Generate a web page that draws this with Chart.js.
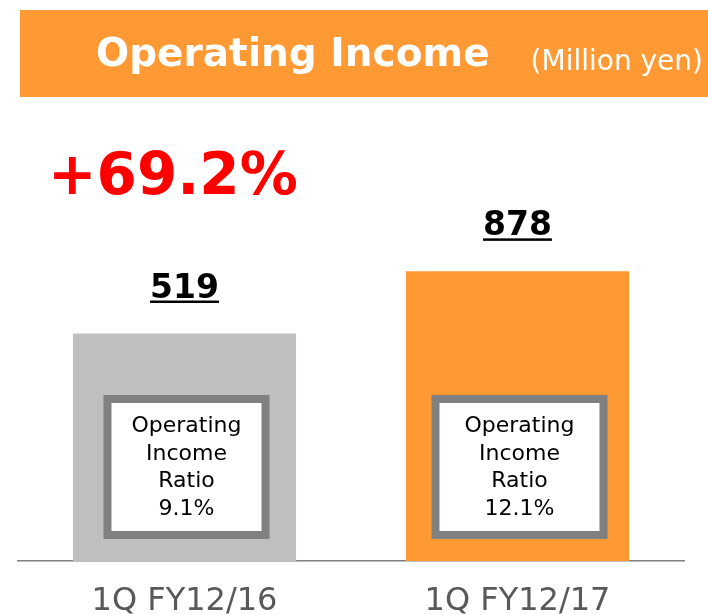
<!DOCTYPE html>
<html>
<head>
<meta charset="utf-8">
<script src="https://cdn.jsdelivr.net/npm/chart.js@4"></script>
<style>
  html, body { margin: 0; padding: 0; background: #fff; }
  #wrap { width: 708px; height: 615px; position: relative; }
</style>
</head>
<body>
<div id="wrap"><canvas id="incomeChart"></canvas></div>
<script>
// chart data
const categories = ['1Q FY12/16', '1Q FY12/17'];
const operatingIncome = [519, 878];
const incomeRatio = ['9.1%', '12.1%'];
const growthText = '+69.2%';
const titleText = 'Operating Income';
const unitText = '(Million yen)';

const FONT = '"DejaVu Sans", Verdana, sans-serif';
const ORANGE = '#FF9933';

// draws the header, growth figure, value labels and ratio boxes
const decorations = {
    id: 'decorations',
    afterDatasetsDraw(chart) {
        const ctx = chart.ctx;
        ctx.save();

        // header band
        ctx.fillStyle = ORANGE;
        ctx.fillRect(20, 10, 688, 87);
        ctx.fillStyle = '#fff';
        ctx.textBaseline = 'alphabetic';
        ctx.textAlign = 'left';
        ctx.font = 'bold 39px ' + FONT;
        ctx.fillText(titleText, 96, 66);
        ctx.font = '28px ' + FONT;
        ctx.textAlign = 'right';
        ctx.fillText(unitText, 703, 70);

        // growth rate
        ctx.fillStyle = '#FF0000';
        ctx.textAlign = 'left';
        ctx.font = 'bold 58px ' + FONT;
        ctx.fillText(growthText, 48, 194);

        const meta = chart.getDatasetMeta(0);
        meta.data.forEach((bar, i) => {
            // value label with underline
            ctx.fillStyle = '#000';
            ctx.textAlign = 'center';
            ctx.font = 'bold 33px ' + FONT;
            const label = String(operatingIncome[i]);
            const ty = bar.y - 36;
            ctx.fillText(label, bar.x, ty);
            const w = ctx.measureText(label).width;
            ctx.fillRect(bar.x - w / 2, ty + 3, w, 2.5);

            // ratio box
            const boxW = i === 0 ? 166 : 176;
            const boxTop = bar.base - 166;
            const boxH = 144;
            const left = bar.x - boxW / 2 + 2;
            ctx.fillStyle = '#808080';
            ctx.fillRect(left, boxTop, boxW, boxH);
            ctx.fillStyle = '#fff';
            ctx.fillRect(left + 8, boxTop + 8, boxW - 16, boxH - 16);

            ctx.fillStyle = '#000';
            ctx.font = '22px ' + FONT;
            const lines = ['Operating', 'Income', 'Ratio', incomeRatio[i]];
            lines.forEach((t, k) => {
                ctx.fillText(t, left + boxW / 2, boxTop + 37 + k * 27.7);
            });
        });
        ctx.restore();
    }
};

const ctx = document.getElementById('incomeChart').getContext('2d');
const incomeChart = new Chart(ctx, {
    type: 'bar',
    data: {
        labels: categories,
        datasets: [{
            data: operatingIncome,
            backgroundColor: ['#BFBFBF', ORANGE],
            borderWidth: 0,
            base: -795,
            barPercentage: 0.67,
            categoryPercentage: 1
        }]
    },
    options: {
        responsive: true,
        maintainAspectRatio: false,
        animation: false,
        layout: {
            padding: { left: 18, right: 24, top: 110, bottom: -20 }
        },
        plugins: {
            legend: { display: false },
            tooltip: { enabled: false }
        },
        scales: {
            x: {
                grid: { display: false },
                border: { display: true, color: '#808080', width: 1.5 },
                ticks: {
                    color: '#595959',
                    padding: 17,
                    font: { family: FONT, size: 32, lineHeight: 1 }
                }
            },
            y: {
                display: false,
                min: -795,
                max: 1810
            }
        }
    },
    plugins: [decorations]
});
</script>
</body>
</html>
